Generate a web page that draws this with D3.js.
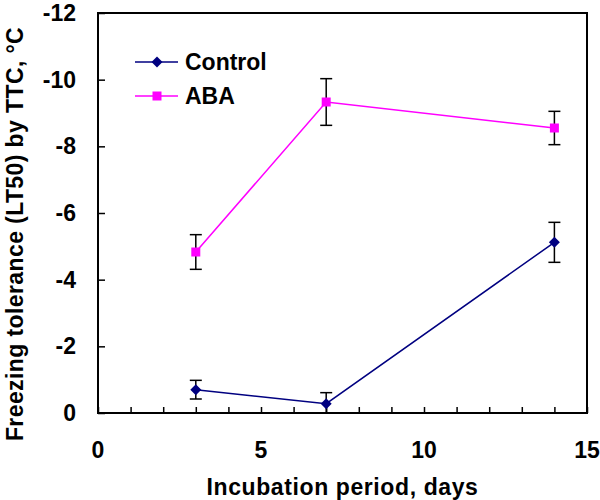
<!DOCTYPE html>
<html>
<head>
<meta charset="utf-8">
<script src="https://cdn.jsdelivr.net/npm/d3@7"></script>
<style>
body { margin: 0; background: #fff; }
svg text { font-family: "Liberation Sans", Arial, Helvetica, sans-serif; font-weight: bold; }
</style>
</head>
<body>
<svg id="chart" width="600" height="500"></svg>
<script>
const days = [3, 7, 14];
const controlValues = [-0.70, -0.28, -5.12];
const controlErrors = [0.28, 0.33, 0.60];
const abaValues = [-4.83, -9.33, -8.55];
const abaErrors = [0.52, 0.70, 0.50];
const seriesNames = ["Control", "ABA"];
const xTickLabels = [0, 5, 10, 15];
const yTickLabels = [0, -2, -4, -6, -8, -10, -12];

const svg = d3.select("#chart");
const m = { left: 98, right: 587, top: 13, bottom: 413 };
const FS = 23;

const x = d3.scaleLinear().domain([0, 15]).range([m.left, m.right]);
const y = d3.scaleLinear().domain([0, -12]).range([m.bottom, m.top]);

// frame
svg.append("rect")
  .attr("x", m.left).attr("y", m.top)
  .attr("width", m.right - m.left).attr("height", m.bottom - m.top)
  .attr("fill", "none").attr("stroke", "#000").attr("stroke-width", 2);

// x axis: inward ticks every 1, labels every 5
const xAxis = d3.axisBottom(x).tickValues(d3.range(0, 16, 1)).tickSize(-6).tickPadding(0).tickFormat("");
const gx = svg.append("g").attr("transform", `translate(0,${m.bottom})`).call(xAxis);
gx.select(".domain").remove();
gx.selectAll(".tick line").attr("stroke", "#000").attr("stroke-width", 1.5);
svg.append("g").selectAll("text").data(xTickLabels).join("text")
  .attr("x", d => x(d)).attr("y", 458)
  .attr("text-anchor", "middle").attr("font-size", FS).text(d => d);

// y axis: inward ticks
const yAxis = d3.axisLeft(y).tickValues(yTickLabels).tickSize(-7).tickFormat("");
const gy = svg.append("g").attr("transform", `translate(${m.left},0)`).call(yAxis);
gy.select(".domain").remove();
gy.selectAll(".tick line").attr("stroke", "#000").attr("stroke-width", 1.5);
svg.append("g").selectAll("text").data(yTickLabels).join("text")
  .attr("x", 76).attr("y", d => y(d) + 8)
  .attr("text-anchor", "end").attr("font-size", FS).text(d => d);

// axis titles
svg.append("text").attr("x", x(7.5)).attr("y", 495)
  .attr("text-anchor", "middle").attr("font-size", FS).attr("letter-spacing", 0.6)
  .text("Incubation period, days");
svg.append("text")
  .attr("transform", "translate(23,234) rotate(-90)")
  .attr("text-anchor", "middle").attr("font-size", FS).attr("letter-spacing", 0.4)
  .text("Freezing tolerance (LT50) by TTC, °C");

const series = [
  { name: seriesNames[0], values: controlValues, errors: controlErrors, color: "#000080", shape: "diamond" },
  { name: seriesNames[1], values: abaValues, errors: abaErrors, color: "#FF00FF", shape: "square" }
];

const line = d3.line().x(d => x(d.x)).y(d => y(d.y));
const markerPath = s => s === "diamond"
  ? "M0,-5.5L5.5,0L0,5.5L-5.5,0Z"
  : "M-4.5,-4.5H4.5V4.5H-4.5Z";

series.forEach(s => {
  const pts = days.map((d, i) => ({ x: d, y: s.values[i], e: s.errors[i] }));
  const g = svg.append("g");
  // error bars
  const eb = g.selectAll(".eb").data(pts).join("g");
  eb.append("line")
    .attr("x1", d => x(d.x)).attr("x2", d => x(d.x))
    .attr("y1", d => y(Math.min(0, d.y + d.e))).attr("y2", d => y(d.y - d.e))
    .attr("stroke", "#000").attr("stroke-width", 1.5);
  eb.append("line")
    .attr("x1", d => x(d.x) - 6).attr("x2", d => x(d.x) + 6)
    .attr("y1", d => y(d.y - d.e)).attr("y2", d => y(d.y - d.e))
    .attr("stroke", "#000").attr("stroke-width", 1.5);
  eb.filter(d => d.y + d.e < 0).append("line")
    .attr("x1", d => x(d.x) - 6).attr("x2", d => x(d.x) + 6)
    .attr("y1", d => y(d.y + d.e)).attr("y2", d => y(d.y + d.e))
    .attr("stroke", "#000").attr("stroke-width", 1.5);
  g.append("path").datum(pts).attr("d", line)
    .attr("fill", "none").attr("stroke", s.color).attr("stroke-width", 1.5);
  g.selectAll(".pt").data(pts).join("path")
    .attr("transform", d => `translate(${x(d.x)},${y(d.y)})`)
    .attr("d", markerPath(s.shape)).attr("fill", s.color);
});

// legend
const lg = svg.append("g");
series.forEach((s, i) => {
  const ly = 62 + i * 34;
  lg.append("line").attr("x1", 135).attr("x2", 178).attr("y1", ly).attr("y2", ly)
    .attr("stroke", s.color).attr("stroke-width", 1.5);
  lg.append("path").attr("transform", `translate(157,${ly})`)
    .attr("d", markerPath(s.shape)).attr("fill", s.color);
  lg.append("text").attr("x", 185).attr("y", ly + 8).attr("font-size", FS).text(s.name);
});
</script>
</body>
</html>
